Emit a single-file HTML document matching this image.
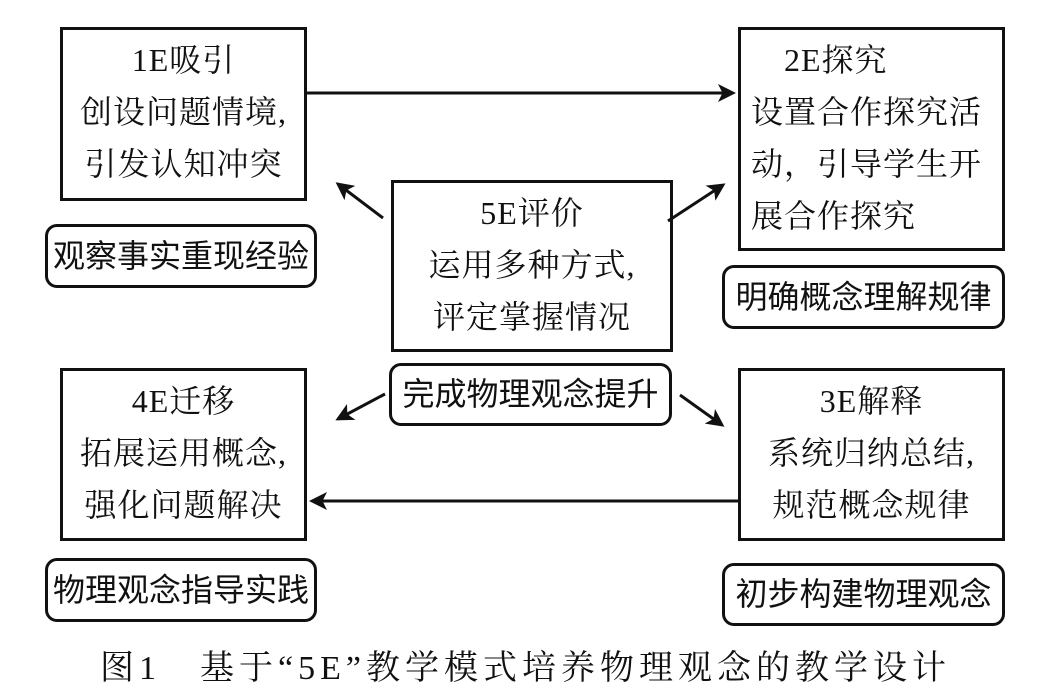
<!DOCTYPE html>
<html><head><meta charset="utf-8"><style>
body{margin:0;width:1063px;height:698px;background:#fff;position:relative;overflow:hidden;font-family:"Liberation Serif","Noto Serif CJK SC",serif;color:#111}
.b{position:absolute;border:3px solid #111;box-sizing:border-box;font-size:32px;line-height:52px;text-align:center;letter-spacing:1px;white-space:nowrap}
.r{position:absolute;border:3px solid #111;border-radius:12px;box-sizing:border-box;font-size:32px;text-align:center;font-family:"Liberation Sans","Noto Sans CJK SC",sans-serif;letter-spacing:0px;white-space:nowrap}
.cap{position:absolute;left:100px;top:640px;font-size:34px;white-space:pre;letter-spacing:5px}
</style></head><body>
<div class="b" style="left:60px;top:27px;width:247px;height:174px;padding-top:4px">1E吸引<br>创设问题情境,<br>引发认知冲突</div>
<div class="r" style="left:45px;top:224px;width:272px;height:64px;line-height:58px">观察事实重现经验</div>
<div class="b" style="left:738px;top:27px;width:267px;height:224px;padding-top:4px;text-align:left;padding-left:10px">　2E探究<br>设置合作探究活<br>动，引导学生开<br>展合作探究</div>
<div class="r" style="left:722px;top:265px;width:283px;height:64px;line-height:58px">明确概念理解规律</div>
<div class="b" style="left:391px;top:180px;width:282px;height:172px;padding-top:4px">5E评价<br>运用多种方式,<br>评定掌握情况</div>
<div class="r" style="left:389px;top:363px;width:283px;height:63px;line-height:56px">完成物理观念提升</div>
<div class="b" style="left:60px;top:368px;width:247px;height:173px;padding-top:4px">4E迁移<br>拓展运用概念,<br>强化问题解决</div>
<div class="r" style="left:45px;top:558px;width:272px;height:64px;line-height:58px">物理观念指导实践</div>
<div class="b" style="left:738px;top:368px;width:267px;height:173px;padding-top:4px">3E解释<br>系统归纳总结,<br>规范概念规律</div>
<div class="r" style="left:722px;top:563px;width:283px;height:63px;line-height:57px">初步构建物理观念</div>
<svg width="1063" height="698" style="position:absolute;left:0;top:0">
<defs><marker id="a" markerWidth="6" markerHeight="6" refX="5" refY="3" orient="auto" markerUnits="strokeWidth"><path d="M0,0 L6,3 L0,6 L1.5,3z" fill="#111"/></marker></defs>
<g stroke="#111" stroke-width="3" fill="none" marker-end="url(#a)">
<line x1="307" y1="93" x2="733" y2="93"/>
<line x1="738" y1="501" x2="312" y2="501"/>
<line x1="383" y1="218" x2="338" y2="184"/>
<line x1="668" y1="221" x2="723" y2="185"/>
<line x1="385" y1="394" x2="338" y2="419"/>
<line x1="680" y1="395" x2="722" y2="425"/>
</g></svg>
<div class="cap">图1　基于“5E”教学模式培养物理观念的教学设计</div>
</body></html>
